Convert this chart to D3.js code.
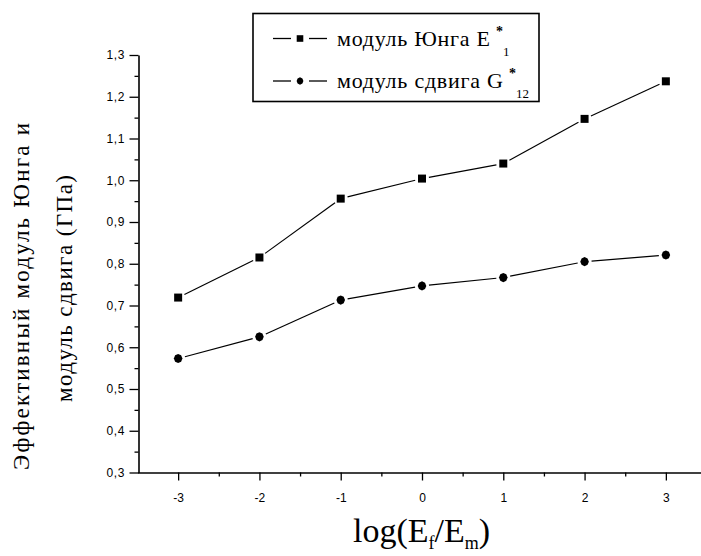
<!DOCTYPE html>
<html>
<head>
<meta charset="utf-8">
<script src="https://cdn.jsdelivr.net/npm/d3@7"></script>
<style>
  body { margin: 0; background: #fff; }
  svg { display: block; }
  .tick text { font-family: "Liberation Sans", Arial, sans-serif; font-size: 12px; fill: #000; }
</style>
</head>
<body>
<div id="chart"></div>
<script>
// log(Ef/Em) positions
var xs = [-3, -2, -1, 0, 1, 2, 3];
// effective Young's modulus E*1, GPa
var youngE = [0.719, 0.815, 0.956, 1.004, 1.04, 1.147, 1.237];
// shear modulus G*12, GPa
var shearG = [0.573, 0.625, 0.713, 0.747, 0.767, 0.805, 0.821];

var yTicks = [0.3, 0.4, 0.5, 0.6, 0.7, 0.8, 0.9, 1.0, 1.1, 1.2, 1.3];
var yMinor = [0.35, 0.45, 0.55, 0.65, 0.75, 0.85, 0.95, 1.05, 1.15, 1.25];
var xTicks = [-3, -2, -1, 0, 1, 2, 3];
var xMinor = [-2.5, -1.5, -0.5, 0.5, 1.5, 2.5, 3.5];

var serif = '"Liberation Serif", "Times New Roman", serif';
var width = 701;
var height = 556;

var svg = d3
  .select("#chart")
  .append("svg")
  .attr("width", width)
  .attr("height", height);

svg.append("rect").attr("width", width).attr("height", height).attr("fill", "#fff");

var x = d3.scaleLinear().domain([-3.5, 3.5]).range([137.5, 706.5]);
var y = d3.scaleLinear().domain([0.3, 1.3]).range([472.5, 55]);

var commaFmt = (d) => d3.format(".1f")(d).replace(".", ",");

// minor ticks first
svg
  .append("g")
  .attr("transform", "translate(138.5,0)")
  .call(d3.axisLeft(y).tickValues(yMinor).tickSize(4).tickFormat(""))
  .call((g) => g.select(".domain").remove());

svg
  .append("g")
  .attr("transform", "translate(0,472.5)")
  .call(d3.axisBottom(x).tickValues(xMinor).tickSize(4).tickFormat(""))
  .call((g) => g.select(".domain").remove());

var yAxis = svg
  .append("g")
  .attr("transform", "translate(138.5,0)")
  .call(
    d3.axisLeft(y).tickValues(yTicks).tickSize(9).tickSizeOuter(0).tickPadding(4.5).tickFormat(commaFmt)
  );

var xAxis = svg
  .append("g")
  .attr("transform", "translate(0,472.5)")
  .call(
    d3.axisBottom(x).tickValues(xTicks).tickSize(8).tickSizeOuter(0).tickPadding(12.5).tickFormat((d) => String(d))
  );

svg.selectAll(".domain").attr("stroke", "#000").attr("stroke-width", 1.6);
svg.selectAll(".tick line").attr("stroke", "#000").attr("stroke-width", 1.3);
yAxis.selectAll(".tick text").attr("letter-spacing", "0.6px");

var squarePath = "M-4,-4H4V4H-4Z";
var dotPath = "M0,-4.6L3,-3.2L4.3,0L3,3.2L0,4.6L-3,3.2L-4.3,0L-3,-3.2Z";

// connecting lines stop short of each marker
function drawSeries(vals, shape) {
  var pts = xs.map((d, i) => [x(d), y(vals[i])]);
  var gap = 7;
  for (let i = 1; i < pts.length; i++) {
    var [x1, y1] = pts[i - 1];
    var [x2, y2] = pts[i];
    var len = Math.sqrt((x2 - x1) * (x2 - x1) + (y2 - y1) * (y2 - y1));
    var ux = (x2 - x1) / len;
    var uy = (y2 - y1) / len;
    svg
      .append("line")
      .attr("x1", x1 + ux * gap)
      .attr("y1", y1 + uy * gap)
      .attr("x2", x2 - ux * gap)
      .attr("y2", y2 - uy * gap)
      .attr("stroke", "#000")
      .attr("stroke-width", 1.2);
  }
  svg
    .selectAll(null)
    .data(pts)
    .enter()
    .append("path")
    .attr("transform", (d) => `translate(${d[0]},${d[1]})`)
    .attr("d", shape)
    .attr("fill", "#000");
}

drawSeries(youngE, squarePath);
drawSeries(shearG, dotPath);

// legend
var lg = svg.append("g");
lg.append("rect")
  .attr("x", 253)
  .attr("y", 13.5)
  .attr("width", 286)
  .attr("height", 88)
  .attr("fill", "#fff")
  .attr("stroke", "#000")
  .attr("stroke-width", 1.6);

var legendRows = [
  { y: 38.5, shape: "M-3.3,-3.3H3.3V3.3H-3.3Z", main: "модуль Юнга E", len: 153, sub: "1" },
  { y: 81, shape: "M0,-3.8L2.4,-2.6L3.4,0L2.4,2.6L0,3.8L-2.4,2.6L-3.4,0L-2.4,-2.6Z", main: "модуль сдвига G", len: 166, sub: "12" },
];

legendRows.forEach((r) => {
  lg.append("line").attr("x1", 273).attr("x2", 291).attr("y1", r.y).attr("y2", r.y).attr("stroke", "#000").attr("stroke-width", 1.3);
  lg.append("line").attr("x1", 309).attr("x2", 327).attr("y1", r.y).attr("y2", r.y).attr("stroke", "#000").attr("stroke-width", 1.3);
  lg.append("path")
    .attr("transform", `translate(300,${r.y})`)
    .attr("d", r.shape)
    .attr("fill", "#000");
  lg.append("text")
    .attr("x", 337)
    .attr("y", r.y + 7)
    .attr("font-family", serif)
    .attr("font-size", 22)
    .attr("textLength", r.len)
    .attr("lengthAdjust", "spacing")
    .text(r.main);
  var endX = 337 + r.len;
  lg.append("text")
    .attr("x", endX + 6)
    .attr("y", r.y - 3)
    .attr("font-family", serif)
    .attr("font-size", 14)
    .attr("font-weight", "bold")
    .text("*");
  lg.append("text")
    .attr("x", endX + 13)
    .attr("y", r.y + 17)
    .attr("font-family", serif)
    .attr("font-size", 13)
    .text(r.sub);
});

// x axis title
var xt = svg
  .append("text")
  .attr("x", 353)
  .attr("y", 542)
  .attr("font-family", serif)
  .attr("font-size", 34);
xt.append("tspan").text("log(E");
xt.append("tspan").attr("dy", 7).attr("font-size", 18).text("f");
xt.append("tspan").attr("dy", -7).text("/E");
xt.append("tspan").attr("dy", 7).attr("font-size", 18).text("m");
xt.append("tspan").attr("dy", -7).text(")");

// y axis title, two lines
svg
  .append("text")
  .attr("transform", "translate(29,296.5) rotate(-90)")
  .attr("text-anchor", "middle")
  .attr("font-family", serif)
  .attr("font-size", 23)
  .attr("textLength", 347)
  .attr("lengthAdjust", "spacing")
  .text("Эффективный модуль Юнга и");

svg
  .append("text")
  .attr("transform", "translate(72,288.5) rotate(-90)")
  .attr("text-anchor", "middle")
  .attr("font-family", serif)
  .attr("font-size", 23)
  .attr("textLength", 227)
  .attr("lengthAdjust", "spacing")
  .text("модуль сдвига (ГПа)");
</script>
</body>
</html>
